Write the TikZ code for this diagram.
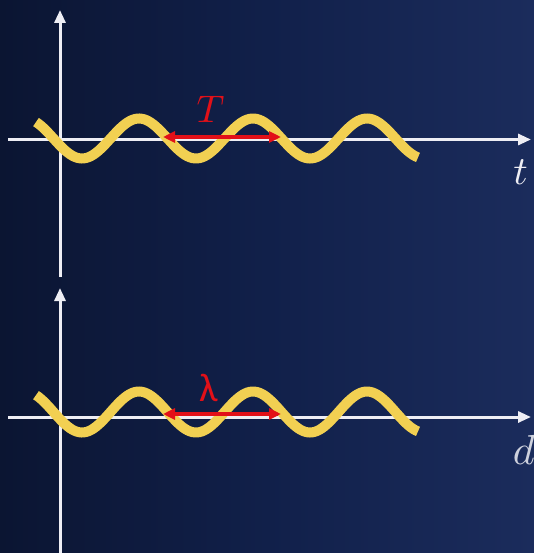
\documentclass[tikz,border=0pt]{standalone}
\usepackage{fontspec}
\newfontfamily\lamfont{Carlito}
\usetikzlibrary{arrows.meta}
\definecolor{bgL}{RGB}{11,21,50}
\definecolor{bgM}{RGB}{17,32,74}
\definecolor{bgR}{RGB}{27,44,92}
\definecolor{axiscol}{RGB}{238,238,244}
\definecolor{wavecol}{RGB}{242,208,82}
\definecolor{redcol}{RGB}{226,16,24}
\tikzset{
  axisline/.style={draw=axiscol, line width=3pt, -{Triangle[length=13pt,width=11pt]}},
  wave/.style={draw=wavecol, line width=10pt, line cap=butt},
  period/.style={draw=redcol, line width=4pt, {Triangle[length=12pt,width=11pt]}-{Triangle[length=12pt,width=11pt]}},
  redlabel/.style={text=redcol, inner sep=0pt, anchor=base},
  axlabel/.style={text=axiscol, inner sep=0pt, anchor=base},
}
\begin{document}
\begin{tikzpicture}[x=1pt,y=-1pt]
\useasboundingbox (0,0) rectangle (534,553);
\shade[left color=bgL, right color=bgR, middle color=bgM] (0,0) rectangle (534,553);
% top panel
\coordinate (ty0) at (60,277);
\coordinate (ty1) at (60,10);
\coordinate (tx0) at (8,139.5);
\coordinate (tx1) at (531,139.5);
\draw[axisline] (ty0) -- (ty1);
\draw[axisline] (tx0) -- (tx1);
\draw[wave] plot[domain=36:418, samples=160, variable=\x] (\x, {138.5 - 20*cos(3.157895*(\x-139))});
\coordinate (ta) at (163,137);
\coordinate (tb) at (281,137);
\draw[period] (ta) -- (tb);
\node[redlabel, scale=3.85] (Tlab) at (210.5,122.3) {$T$};
\node[axlabel, scale=4.0] (tlab) at (520.5,184.3) {$t$};
% bottom panel
\coordinate (by0) at (60,560);
\coordinate (by1) at (60,288);
\coordinate (bx0) at (8,417);
\coordinate (bx1) at (531,417);
\draw[axisline] (by0) -- (by1);
\draw[axisline] (bx0) -- (bx1);
\draw[wave] plot[domain=36:418, samples=160, variable=\x] (\x, {412 - 20.5*cos(3.157895*(\x-139))});
\coordinate (ba) at (163,414);
\coordinate (bb) at (281,414);
\draw[period] (ba) -- (bb);
\node[redlabel] (Llab) at (208.5,401.7) {\fontsize{40}{40}\selectfont\lamfont λ};
\node[axlabel, text=axiscol!85!bgR, anchor=base west, scale=4.2] (dlab) at (512,464) {$d$};
\end{tikzpicture}
\end{document}
